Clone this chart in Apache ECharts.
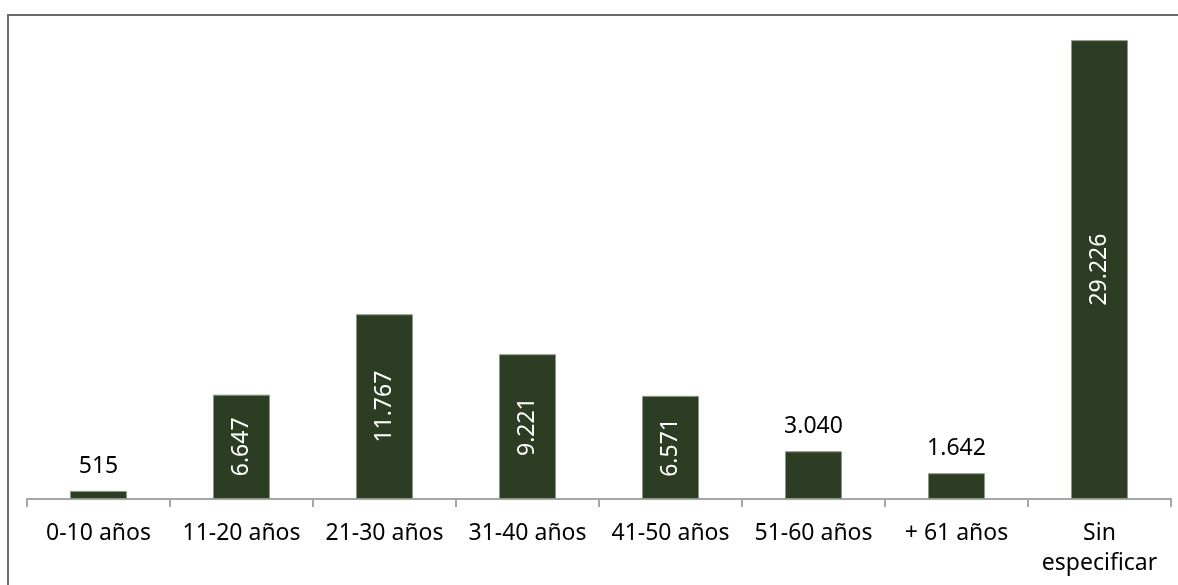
<!DOCTYPE html>
<html>
<head>
<meta charset="utf-8">
<script src="https://cdn.jsdelivr.net/npm/echarts@6.0.0/dist/echarts.min.js"></script>
<style>
  html, body { margin: 0; padding: 0; background: #fff; }
  #chart { width: 1178px; height: 585px; }
</style>
</head>
<body>
<div id="chart"></div>
<script>
const categories = ["0-10 años", "11-20 años", "21-30 años", "31-40 años", "41-50 años", "51-60 años", "+ 61 años", "Sin especificar"];
const values = [515, 6647, 11767, 9221, 6571, 3040, 1642, 29226];

// separador de miles con punto
function fmt(v) {
  return String(v).replace(/\B(?=(\d{3})+(?!\d))/g, ".");
}

const barData = values.map(function (v) {
  const inside = v > 5000;
  return {
    value: v,
    label: inside
      ? { position: "inside", rotate: 90, color: "#fff" }
      : { position: "top", rotate: 0, color: "#000", distance: 13 }
  };
});

const chart = echarts.init(document.getElementById("chart"));
chart.setOption({
  animation: false,
  textStyle: { fontFamily: "Noto Sans" },
  graphic: [
    {
      type: "polyline",
      shape: { points: [[8, 600], [8, 15], [1200, 15]] },
      style: { fill: null, stroke: "#6b6b6b", lineWidth: 2 },
      silent: true
    }
  ],
  grid: { left: 27, right: 7, top: 28, bottom: 86 },
  xAxis: {
    type: "category",
    data: categories,
    axisLine: { lineStyle: { color: "#a6a6a6", width: 2 } },
    axisTick: { show: true, length: 8, lineStyle: { color: "#a6a6a6", width: 2 } },
    axisLabel: {
      interval: 0,
      margin: 19,
      color: "#000",
      fontSize: 23,
      lineHeight: 30,
      fontFamily: "Noto Sans",
      formatter: function (v) {
        return v === "Sin especificar" ? "Sin\nespecificar" : v;
      }
    }
  },
  yAxis: {
    type: "value",
    min: 0,
    max: 30000,
    show: false,
    splitLine: { show: false }
  },
  series: [
    {
      type: "bar",
      data: barData,
      barWidth: 57,
      itemStyle: { color: "#2c3d24", borderColor: "#8c9887", borderWidth: 1 },
      label: {
        show: true,
        fontSize: 23,
        fontFamily: "Noto Sans",
        formatter: function (p) { return fmt(p.value); }
      }
    }
  ]
});
</script>
</body>
</html>
